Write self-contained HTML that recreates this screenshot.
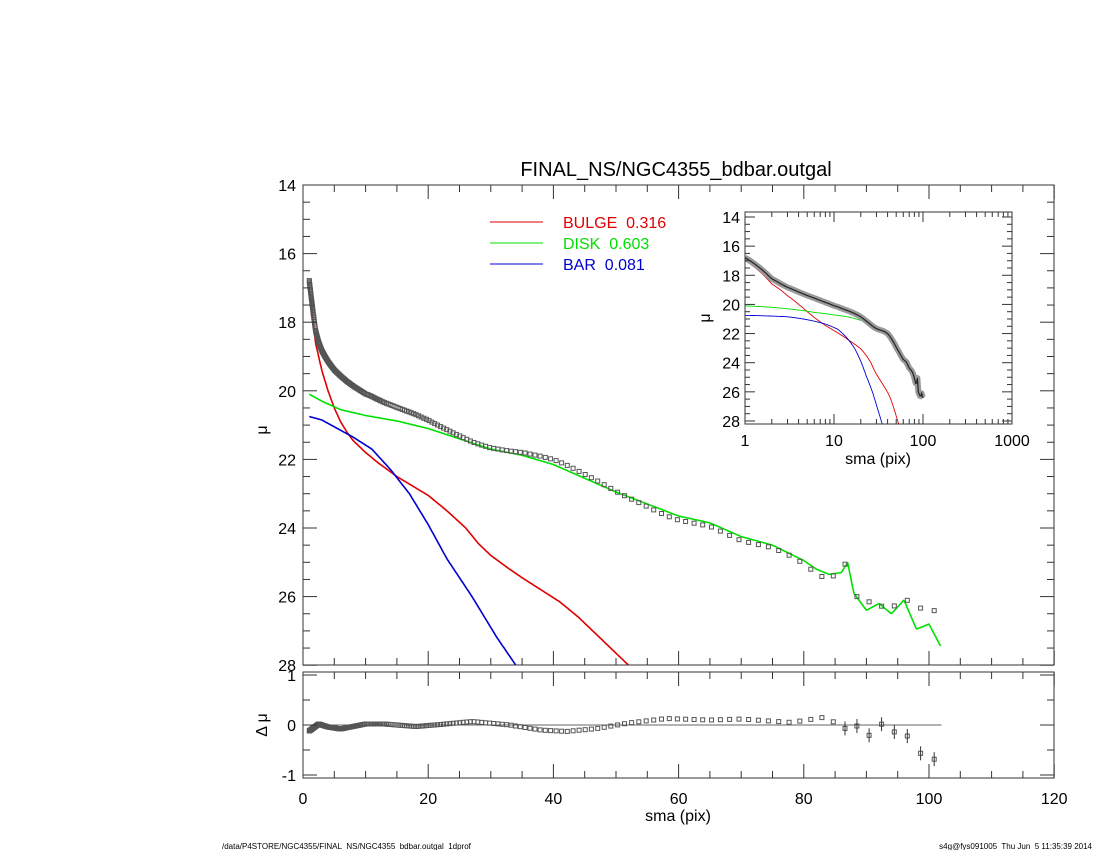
<!DOCTYPE html>
<html><head><meta charset="utf-8"><style>
body{margin:0;background:#fff;}
svg{display:block;font-family:"Liberation Sans",sans-serif;}
</style></head><body>
<svg id="s" width="1100" height="850" xmlns="http://www.w3.org/2000/svg"></svg>
<script>
const S=document.getElementById('s');let h='';
function interp(p,x,ext){if(x<=p[0][0])return p[0][1];for(let i=1;i<p.length;i++){if(x<=p[i][0]){const a=p[i-1],b=p[i];const t=(x-a[0])/(b[0]-a[0]);return a[1]+(b[1]-a[1])*t;}}return ext!==undefined?ext:p[p.length-1][1];}
const bul=[[1,17],[2,18.6],[3,19.4],[4,20.0],[5,20.5],[6,20.9],[7,21.2],[8,21.45],[10,21.8],[12,22.1],[15,22.5],[20,23.05],[23,23.5],[26,24.0],[28,24.45],[30,24.8],[33,25.2],[35,25.45],[38,25.8],[41,26.15],[44,26.6],[48,27.3],[52,28],[55,28.5]];
const dsk=[[1,20.1],[3,20.3],[6,20.55],[10,20.72],[15,20.88],[20,21.1],[25,21.4],[30,21.7],[35,21.88],[40,22.15],[45,22.55],[50,22.95],[55,23.3],[60,23.65],[65,23.85],[70,24.25],[75,24.5],[80,24.95],[82,25.2],[84,25.35],[86,25.3],[87,25.0],[88,25.9],[90,26.4],[92,26.2],[94,26.5],[96,26.1],[98,26.95],[100,26.8],[102,27.5]];
const bar=[[1,20.75],[3,20.85],[5,21.05],[8,21.35],[11,21.7],[14,22.3],[17,23.0],[20,23.9],[23,24.9],[27,26.0],[31,27.2],[34,28],[36,28.5]];
const res=[[1,-0.12],[2.5,0.02],[4,-0.04],[6,-0.08],[10,0.02],[13,0.02],[18,-0.03],[22,0.01],[27,0.07],[33,0],[38,-0.1],[42,-0.13],[47,-0.07],[52,0.04],[58,0.13],[65,0.1],[70,0.12],[78,0.05],[83,0.15],[85,0.05],[87,-0.1],[88.5,-0.02],[90,-0.28],[92,0.06],[94,-0.15],[96,-0.1],[98,-0.55],[100,-0.6],[102,-0.8]];
function tot(x){let f=0;f+=Math.pow(10,-0.4*interp(bul,x,40));f+=Math.pow(10,-0.4*interp(bar,x,40));f+=Math.pow(10,-0.4*interp(dsk,x));return -2.5*Math.log10(f);}
const xs=[];for(let x=1;x<=102.5;x*=1.022)xs.push(x);
const X=x=>303+x*6.26, Y=v=>185+(v-14)*34.3;
function curve(c,col,w,fx,fy,ylim,lo,hi){let d='';let st=false;for(let x=lo;x<=hi;x+=(hi-lo)/600){const v=interp(c,x);if(v>ylim){if(st){d+=`L${fx(x).toFixed(1)},${fy(ylim).toFixed(1)}`;}break;}d+=(st?'L':'M')+fx(x).toFixed(1)+','+fy(v).toFixed(1);st=true;}h+=`<path d="${d}" fill="none" stroke="${col}" stroke-width="${w}" stroke-linejoin="round"/>`;}
h+=`<defs><clipPath id="cm"><rect x="303" y="185" width="751" height="480"/></clipPath><clipPath id="ci"><rect x="745" y="212" width="267" height="212"/></clipPath></defs>`;
h+='<g clip-path="url(#cm)">';
curve(bul,'#e00000',1.6,X,Y,28,1,60);curve(bar,'#0000d0',1.6,X,Y,28,1,40);curve(dsk,'#00e000',1.6,X,Y,28.2,1,102);
for(const x of xs){const v=tot(x)+interp(res,x);h+=`<rect x="${(X(x)-2).toFixed(1)}" y="${(Y(v)-2).toFixed(1)}" width="4" height="4" fill="none" stroke="#555" stroke-width="1"/>`;}
h+='</g>';
function frame(x0,y0,x1,y1){h+=`<rect x="${x0}" y="${y0}" width="${x1-x0}" height="${y1-y0}" fill="none" stroke="#333" stroke-width="1"/>`;}
frame(303,185,1054,665);
function tk(x1,y1,x2,y2){h+=`<line x1="${x1}" y1="${y1}" x2="${x2}" y2="${y2}" stroke="#333" stroke-width="1"/>`;}
for(let v=0;v<=120;v+=5){const x=X(v),L=v%20?7:14;tk(x,665,x,665-L);tk(x,185,x,185+L);}
for(let v=14;v<=28;v+=0.5){const y=Y(v),L=v%2?7:14;tk(303,y,303+L,y);tk(1054,y,1054-L,y);}
for(let v=14;v<=28;v+=2)h+=`<text x="296" y="${Y(v)+6}" font-size="16" text-anchor="end">${v}</text>`;
h+=`<text x="267" y="430" font-size="16" transform="rotate(-90 267 430)" text-anchor="middle">μ</text>`;
const RY=v=>725-v*50;
frame(303,672,1054,778);
h+=`<line x1="${X(1)}" y1="725" x2="${X(102)}" y2="725" stroke="#666" stroke-width="1"/>`;
for(const x of xs){const v=interp(res,x);h+=`<rect x="${(X(x)-2).toFixed(1)}" y="${(RY(v)-2).toFixed(1)}" width="4" height="4" fill="none" stroke="#555"/>`;if(x>85)tk(X(x),RY(v)-7,X(x),RY(v)+7);}
for(let v=0;v<=120;v+=5){const x=X(v),L=v%20?7:14;tk(x,778,x,778-L);tk(x,672,x,672+L);}
for(let v=-1;v<=1;v+=0.5){const y=RY(v),L=v%1?7:14;tk(303,y,303+L,y);tk(1054,y,1054-L,y);}
[[1,'1'],[0,'0'],[-1,'-1']].forEach(([v,t])=>h+=`<text x="296" y="${RY(v)+6}" font-size="16" text-anchor="end">${t}</text>`);
for(let v=0;v<=120;v+=20)h+=`<text x="${X(v)}" y="804" font-size="16" text-anchor="middle">${v}</text>`;
h+=`<text x="678" y="821" font-size="16" text-anchor="middle">sma (pix)</text>`;
h+=`<text x="267" y="725" font-size="16" transform="rotate(-90 267 725)" text-anchor="middle">Δ μ</text>`;
h+=`<text x="676" y="176" font-size="20" text-anchor="middle">FINAL_NS/NGC4355_bdbar.outgal</text>`;
[['#e00000','BULGE  0.316',222],['#00e000','DISK  0.603',243],['#0000d0','BAR  0.081',264]].forEach(([c,t,y])=>{h+=`<line x1="490" y1="${y}" x2="543" y2="${y}" stroke="${c}"/><text x="563" y="${y+6}" font-size="16" fill="${c}" xml:space="preserve">${t}</text>`;});
const IX=x=>745+Math.log10(x)*89, IY=v=>217+(v-14)*14.57;
h+='<rect x="745" y="212" width="267" height="212" fill="#fff"/>';
h+='<g clip-path="url(#ci)">';
function lc(c,col,hi){let d='';for(let x=1;x<=hi;x*=1.01){const v=interp(c,x);d+=(d?'L':'M')+IX(x).toFixed(1)+','+IY(v).toFixed(1);}h+=`<path d="${d}" fill="none" stroke="${col}" stroke-width="0.9"/>`;}
lc(bul,'#e00000',60);lc(bar,'#0000d0',40);lc(dsk,'#00e000',20);
let dd='';for(const x of xs){const v=tot(x)+interp(res,x);dd+=(dd?'L':'M')+IX(x).toFixed(1)+','+IY(v).toFixed(1);}
h+=`<path d="${dd}" fill="none" stroke="#999" stroke-width="6" stroke-linejoin="round"/><path d="${dd}" fill="none" stroke="#222" stroke-width="1.2"/>`;
h+='</g>';
frame(745,212,1012,424);
for(let d=0;d<3;d++)for(let k=1;k<10;k++){const x=IX(k*Math.pow(10,d)),L=k==1?10:5;tk(x,424,x,424-L);tk(x,212,x,212+L);}
for(let v=14;v<=28;v+=0.5){const y=IY(v),L=v%2?5:10;tk(745,y,745+L,y);tk(1012,y,1012-L,y);}
for(let v=14;v<=28;v+=2)h+=`<text x="740" y="${IY(v)+6}" font-size="16" text-anchor="end">${v}</text>`;
[[1,'1'],[10,'10'],[100,'100'],[1000,'1000']].forEach(([v,t])=>h+=`<text x="${IX(v)}" y="446" font-size="16" text-anchor="middle">${t}</text>`);
h+=`<text x="878" y="464" font-size="16" text-anchor="middle">sma (pix)</text>`;
h+=`<text x="710" y="318" font-size="16" transform="rotate(-90 710 318)" text-anchor="middle">μ</text>`;
h+=`<text x="222" y="849" font-size="8">/data/P4STORE/NGC4355/FINAL_NS/NGC4355_bdbar.outgal_1dprof</text>`;
h+=`<text x="1092" y="849" font-size="8" text-anchor="end" xml:space="preserve">s4g@fys091005  Thu Jun  5 11:35:39 2014</text>`;
S.innerHTML=h;
</script>
</body></html>
